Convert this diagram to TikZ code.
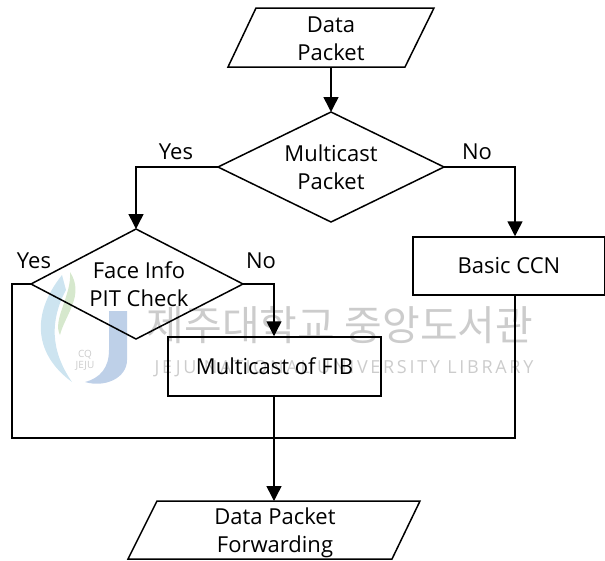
\documentclass[tikz,border=0pt]{standalone}
\usepackage{fontspec}
\setmainfont{Open Sans}
\newfontfamily\krfont{Noto Sans CJK KR}
\newfontfamily\wmfont[LetterSpace=15]{Open Sans}
\usetikzlibrary{arrows.meta}
\tikzset{
  x=1pt,y=-1pt,
  shapeline/.style={draw=black,line width=1.5pt,line join=miter},
  flow/.style={draw=black,line width=1.5pt,-{Triangle[length=15pt,width=15pt]}},
  link/.style={draw=black,line width=1.5pt},
  lab/.style={font=\fontsize{22}{28}\selectfont,align=center,inner sep=0pt,text=black},
  wm/.style={text=black!20,inner sep=0pt},
}
\definecolor{logoblue}{RGB}{190,208,232}
\definecolor{logogreen}{RGB}{214,232,205}
\definecolor{logocyan}{RGB}{205,228,240}
\begin{document}
\begin{tikzpicture}
\useasboundingbox (0,0) rectangle (605,560);
% watermark
\fill[logoblue] (109,311) -- (127,311) -- (127,360) .. controls (127,378) and (105,388) .. (85,382) .. controls (100,378) and (109,368) .. (109,350) -- cycle;
\fill[logocyan] (62,275) .. controls (30,315) and (35,355) .. (72,382) .. controls (50,350) and (50,320) .. (66,290) -- cycle;
\fill[logogreen] (70,272) .. controls (85,295) and (65,315) .. (60,335) .. controls (52,320) and (72,295) .. (70,272) -- cycle;
\node[wm,font=\fontsize{10}{11}\selectfont,align=center] (wmlogo) at (85,360) {CQ\\JEJU};
\node[wm,font=\krfont\fontsize{41}{41}\selectfont] (wmkr) at (340,325) {제주대학교 중앙도서관};
\node[wm,font=\wmfont\fontsize{18}{18}\selectfont] (wmen) at (344,369) {JEJU NATIONAL UNIVERSITY LIBRARY};
% shapes
\draw[shapeline] (256,8) -- (434,8) -- (405,67) -- (228,67) -- cycle;
\node[lab] (dp) at (331,39) {Data\\Packet};
\coordinate (dpb) at (331,67);
\draw[shapeline] (331,112) -- (444,167) -- (331,222) -- (218,167) -- cycle;
\node[lab] (mp) at (331,167) {Multicast\\Packet};
\coordinate (mpt) at (331,112);
\coordinate (mpl) at (218,167);
\coordinate (mpr) at (444,167);
\draw[shapeline] (136,229) -- (243,284) -- (136,339) -- (31,284) -- cycle;
\node[lab] (fi) at (139,284) {Face Info\\PIT Check};
\coordinate (fit) at (136,229);
\coordinate (fil) at (31,284);
\coordinate (fir) at (243,284);
\node[shapeline,minimum width=213pt,minimum height=59pt,inner sep=0pt,lab] (mf) at (274.5,366.5) {Multicast of FIB};
\node[shapeline,minimum width=192pt,minimum height=58pt,inner sep=0pt,lab] (cc) at (509,266) {Basic CCN};
\draw[shapeline] (157,501) -- (420,501) -- (392,559) -- (128,559) -- cycle;
\node[lab] (pf) at (275,532.5) {Data Packet\\Forwarding};
\coordinate (pft) at (274,501);
\coordinate (jl) at (12,438);
\coordinate (jm) at (274,438);
\coordinate (jr) at (515,438);
% connectors
\draw[flow] (dpb) -- (mpt);
\draw[flow] (mpl) -| (fit);
\draw[flow] (mpr) -| (cc.north -| jr);
\draw[flow] (fir) -| (mf.north -| jm);
\draw[link] (fil) -| (jl) -- (jr) -- (cc.south -| jr);
\draw[flow] (mf.south -| jm) -- (pft);
% labels
\node[lab] (y1) at (176,152) {Yes};
\node[lab] (n1) at (477,152) {No};
\node[lab] (y2) at (34,261) {Yes};
\node[lab] (n2) at (261,261) {No};
\end{tikzpicture}
\end{document}
